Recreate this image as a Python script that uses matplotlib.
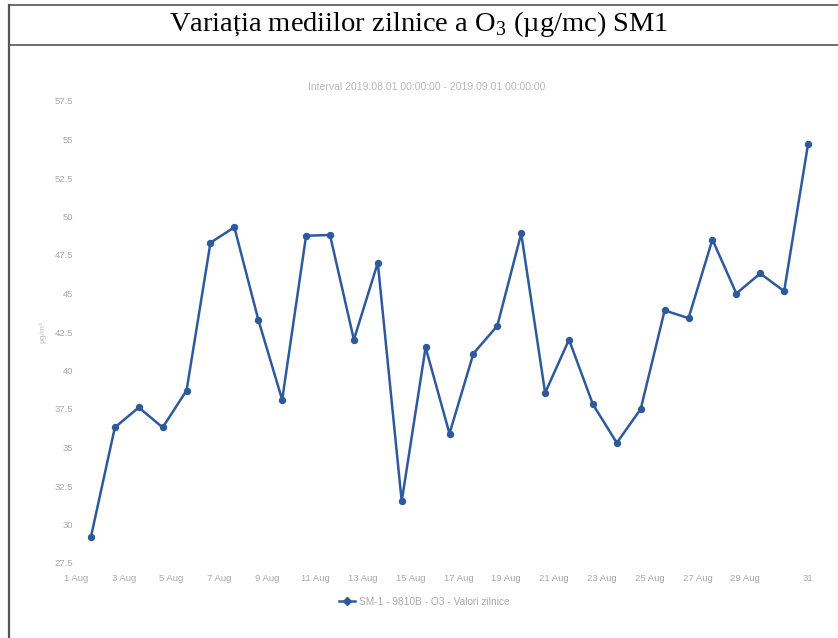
import matplotlib
matplotlib.use("Agg")
import matplotlib.pyplot as plt
import matplotlib.transforms as mtransforms
from matplotlib.lines import Line2D

LINE = "#2e5a9c"
FAINT = "#a8a8a8"

days = list(range(1, 32))
o3_daily = [29.2, 36.3, 37.6, 36.3, 38.7, 48.3, 49.3, 43.3, 38.1, 48.75,
            48.8, 42.0, 47.0, 31.5, 41.5, 35.9, 41.1, 42.9, 48.9, 38.55,
            42.0, 37.8, 35.3, 37.5, 43.9, 43.4, 48.5, 45.0, 46.3, 45.15, 54.7]
tick_days = list(range(1, 32, 2))
tick_labels = [f"{d} Aug" for d in tick_days[:-1]] + ["31"]
y_ticks = [27.5, 30, 32.5, 35, 37.5, 40, 42.5, 45, 47.5, 50, 52.5, 55, 57.5]

plt.rcParams["mathtext.fontset"] = "custom"
plt.rcParams["mathtext.rm"] = "Liberation Serif"

fig = plt.figure(figsize=(8.38, 6.38), dpi=100)
W, H = 838, 638

# outer frame and title box
fig.add_artist(Line2D([9 / W, 9 / W], [0, 1 - 5 / H], color="#555555", lw=1.6))
fig.add_artist(Line2D([9 / W, 1], [1 - 5 / H, 1 - 5 / H], color="#555555", lw=1.2))
fig.add_artist(Line2D([9 / W, 1], [1 - 45 / H, 1 - 45 / H], color="#555555", lw=1.2))

fig.text(419 / W, 1 - 24 / H, r"Variația mediilor zilnice a O$_{\mathrm{3}}$ (µg/mc) SM1",
         ha="center", va="center", family="Liberation Serif", fontsize=20.5)

ax = fig.add_axes([79 / W, 75 / H, (820 - 79) / W, (563 - 101) / H])
ax.plot(days, o3_daily, color=LINE, lw=1.8, marker="o", ms=4.3, zorder=3)
ax.set_xlim(0.5, 31.5)
ax.set_ylim(27.5, 57.5)
ax.set_yticks(y_ticks)
ax.set_yticklabels([f"{v:g}" for v in y_ticks])
ax.set_xticks(tick_days)
ax.set_xticklabels(tick_labels)
for s in ax.spines.values():
    s.set_visible(False)
ax.tick_params(length=0, labelsize=6.8, labelcolor=FAINT, pad=4)
ax.tick_params(axis="x", pad=8)
for lab in ax.get_xticklabels() + ax.get_yticklabels():
    lab.set_family("Liberation Sans")
# date labels sit a little left of their points, except the last one
shift = mtransforms.ScaledTranslation(-15 / 100, 0, fig.dpi_scale_trans)
for lab in ax.get_xticklabels()[:-1]:
    lab.set_transform(lab.get_transform() + shift)
ax.set_ylabel("µg/m³", fontsize=6, color="#c0c0c0", family="Liberation Sans", labelpad=6)

fig.text(427 / W, 1 - 87 / H,
         "Interval 2019.08.01 00:00:00 - 2019.09.01 00:00:00",
         ha="center", va="center", fontsize=7.5, color="#b8b8b8",
         family="Liberation Sans")

handle = Line2D([], [], color=LINE, lw=1.8, marker="D", ms=4.5)
fig.legend([handle], ["SM-1 - 9810B - O3 - Valori zilnice"], loc="center",
           bbox_to_anchor=(424 / W, 1 - 602 / H), frameon=False,
           prop={"family": "Liberation Sans", "size": 7.3}, labelcolor=FAINT,
           handlelength=1.6, handletextpad=0.4)

fig.savefig("out.png", dpi=100)
